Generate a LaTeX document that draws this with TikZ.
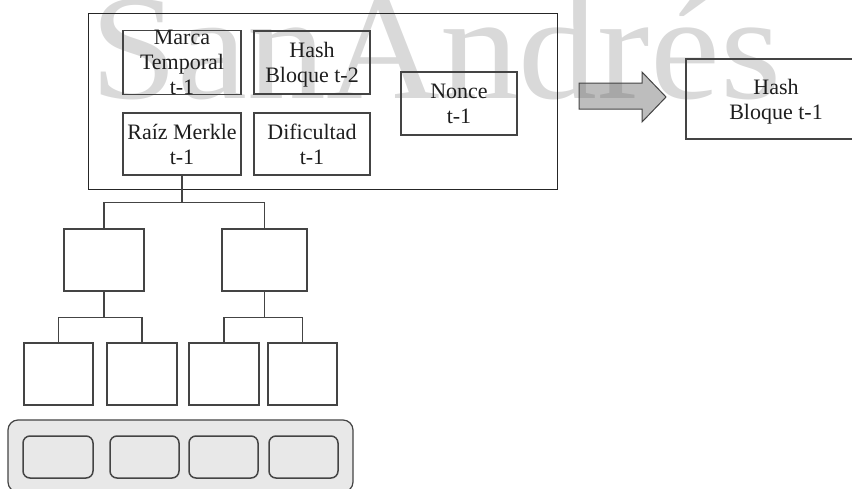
\documentclass[tikz,border=0pt]{standalone}
\usepackage{fontspec}
\setmainfont{Liberation Serif}
\usetikzlibrary{calc}
\definecolor{ink}{HTML}{1E1E1E}
\definecolor{edge}{HTML}{444444}
\definecolor{wm}{HTML}{D9D9D9}
\definecolor{tray}{HTML}{E8E8E8}

\begin{document}
\begin{tikzpicture}[x=1pt,y=-1pt,
  field/.style={draw=edge, line width=1.2pt, rectangle, inner sep=0pt,
    align=center, text=ink, font=\fontsize{22}{25}\selectfont, text depth=0pt},
  hashnode/.style={draw=edge, line width=1.2pt, rectangle, inner sep=0pt},
  link/.style={draw=edge, line width=1.2pt},
  slot/.style={draw=edge, line width=1.5pt, rounded corners=7pt, fill=tray,
    inner sep=0pt, minimum height=42pt}]
\useasboundingbox (0,0) rectangle (852,488);

% background watermark
\node[anchor=base west, text=wm, font=\fontsize{150}{150}\selectfont,
      xscale=1.05, inner sep=0pt] (wmark) at (90,98) {SanAndrés};

% block header
\node[draw=black!85, line width=1pt, inner sep=0pt,
      minimum width=469pt, minimum height=176pt] (blk) at (322.5,101) {};
\node[field, minimum width=118pt, minimum height=63pt] (marca) at (182,62.5)
  {Marca\\Temporal\\t-1};
\node[field, minimum width=116pt, minimum height=63pt] (prev) at (312,62.5)
  {Hash\\Bloque t-2};
\node[field, minimum width=118pt, minimum height=62pt] (raiz) at (182,144)
  {Raíz Merkle\\t-1};
\node[field, minimum width=116pt, minimum height=62pt] (dific) at (312,144)
  {Dificultad\\t-1};
\node[field, minimum width=116pt, minimum height=63pt] (nonce) at (459,103.5)
  {Nonce\\t-1};

% hashing arrow and resulting hash
\draw[draw=edge, line width=1pt, fill=black!60, fill opacity=0.43]
  (579,83) -- (642,83) -- (642,72) -- (666,97) -- (642,122) -- (642,109)
  -- (579,109) -- cycle;
\node[field, minimum width=180pt, minimum height=80pt] (hash) at (776,99)
  {Hash\\Bloque t-1};

% Merkle tree
\node[hashnode, minimum width=80pt, minimum height=62pt] (m1) at (104,260) {};
\node[hashnode, minimum width=85pt, minimum height=62pt] (m2) at (264.5,260) {};
\node[hashnode, minimum width=69pt, minimum height=62pt] (l1) at (58.5,374) {};
\node[hashnode, minimum width=70pt, minimum height=62pt] (l2) at (142,374) {};
\node[hashnode, minimum width=70pt, minimum height=62pt] (l3) at (224,374) {};
\node[hashnode, minimum width=69pt, minimum height=62pt] (l4) at (302.5,374) {};

\path (raiz.south) ++(0,27) coordinate (j0);
\path (m1.south) ++(0,26) coordinate (j1);
\path (m2.south) ++(0,26) coordinate (j2);
\draw[link] (raiz.south) -- (j0);
\draw[link] (m1.north) |- (j0) -| (m2.north);
\draw[link] (m1.south) -- (j1);
\draw[link] (l1.north) |- (j1) -| (l2.north);
\draw[link] (m2.south) -- (j2);
\draw[link] (l3.north) |- (j2) -| (l4.north);

% transactions
\node[draw=edge, line width=1.2pt, fill=tray, rounded corners=10pt, inner sep=0pt,
      minimum width=345pt, minimum height=72pt] (txs) at (180.5,456) {};
\node[slot, minimum width=70pt] (tx1) at (58,457) {};
\node[slot, minimum width=69pt] (tx2) at (144.5,457) {};
\node[slot, minimum width=69pt] (tx3) at (223.5,457) {};
\node[slot, minimum width=69pt] (tx4) at (303.5,457) {};
\end{tikzpicture}
\end{document}
